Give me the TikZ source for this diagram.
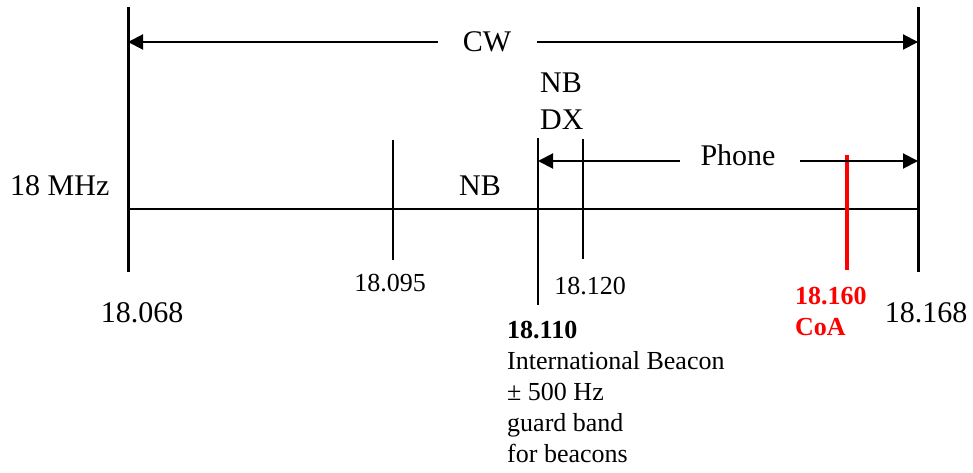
\documentclass[tikz,border=0pt]{standalone}
\usepackage{fontspec}
\setmainfont{Liberation Serif}
\usetikzlibrary{arrows.meta,positioning}
\definecolor{coa}{HTML}{FF0000}

\begin{document}
\begin{tikzpicture}[x=1pt, y=-1pt, every node/.style={inner sep=0pt}, big/.style={font=\fontsize{30}{34}\selectfont}, small/.style={font=\fontsize{26}{31}\selectfont}, smallbold/.style={font=\fontsize{26}{31}\selectfont\bfseries}, edge/.style={line width=3pt}, tick/.style={line width=2pt}, arr/.style={-{Triangle[length=15pt,width=15pt]},line width=2pt}]
\useasboundingbox (0,0) rectangle (973,473);
% band edges and axis
\coordinate (lo top) at (128,7); \coordinate (lo bot) at (128,272);
\coordinate (hi top) at (918,7); \coordinate (hi bot) at (918,272);
\coordinate (axis l) at (128,209); \coordinate (axis r) at (918,209);
\draw[edge] (lo top)--(lo bot);
\draw[edge] (hi top)--(hi bot);
\draw[tick] (axis l)--(axis r);
% ticks
\coordinate (t095 top) at (393,140); \coordinate (t095 bot) at (393,260);
\coordinate (t110 top) at (538,138); \coordinate (t110 bot) at (538,305);
\coordinate (t120 top) at (583,139); \coordinate (t120 bot) at (583,259);
\coordinate (t160 top) at (847,155); \coordinate (t160 bot) at (847,270);
\draw[tick] (t095 top)--(t095 bot);
\draw[tick] (t110 top)--(t110 bot);
\draw[tick] (t120 top)--(t120 bot);
\draw[line width=4.5pt,coa] (t160 top)--(t160 bot);
% CW span
\node[big] (cw) at (487,42) {CW};
\draw[arr] ([xshift=-25pt]cw.west)--(lo top |- cw);
\draw[arr] ([xshift=26pt]cw.east)--(hi top |- cw);
% Phone span
\node[big] (phone) at (738,155) {Phone};
\coordinate (ph a) at (680,161); \coordinate (ph b) at (800,161);
\draw[arr] (ph a)--(t110 top |- ph a);
\draw[arr] (ph b)--(hi top |- ph b);
% labels
\node[big,anchor=base west] (mhz) at (10,195) {18 MHz};
\node[big,anchor=base] (nb) at (480,195) {NB};
\node[big,anchor=base west] (nbdx) at (540,93) {NB};
\node[big,anchor=base west] (dx) at (540,130) {DX};
\node[big,anchor=base] (f068) at (142,322) {18.068};
\node[big,anchor=base] (f168) at (926,322) {18.168};
\node[small,anchor=base] (f095) at (390,291) {18.095};
\node[small,anchor=base] (f120) at (590,294) {18.120};
\node[small,align=left,anchor=north west] (beacon) at (507,321) {\textbf{18.110}\\International Beacon\\± 500 Hz\\guard band\\for beacons};
\node[smallbold,text=coa,align=left,anchor=north west] (coa) at (795,287) {18.160\\CoA};
\end{tikzpicture}
\end{document}
